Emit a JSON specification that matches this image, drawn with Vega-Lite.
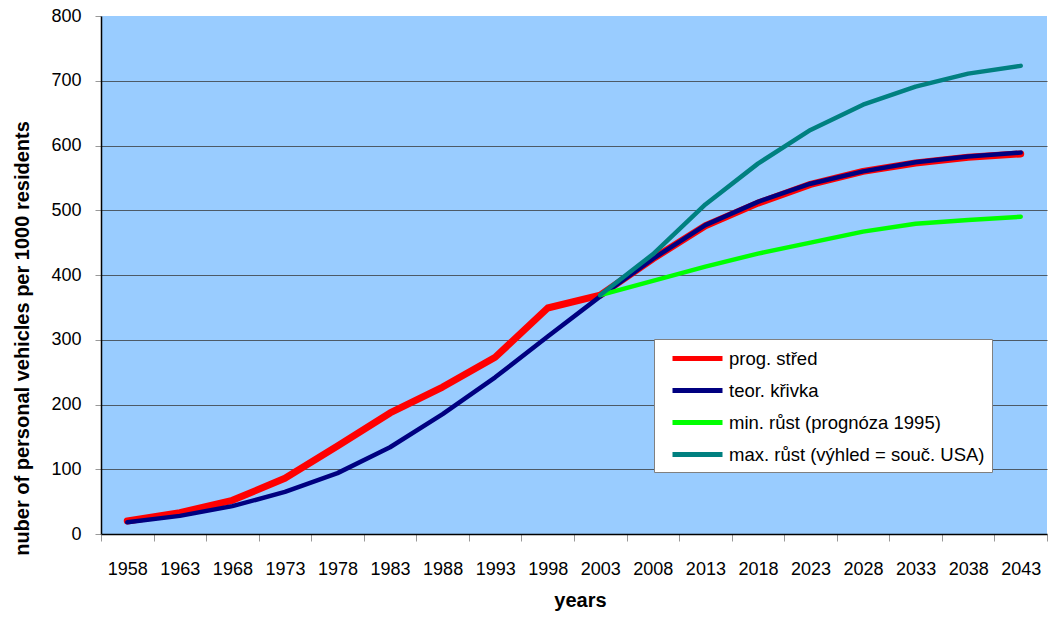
{
  "$schema": "https://vega.github.io/schema/vega-lite/v6.json",
  "width": 946,
  "height": 518,
  "autosize": {"type": "none"},
  "padding": {"left": 101, "top": 16, "right": 2, "bottom": 83},
  "background": "white",
  "config": {
    "view": {"fill": "#99CCFF", "stroke": null},
    "font": "Liberation Sans"
  },
  "data": {
    "values": [
      {"year": "1958", "series": "prog. střed", "value": 20},
      {"year": "1963", "series": "prog. střed", "value": 33},
      {"year": "1968", "series": "prog. střed", "value": 52},
      {"year": "1973", "series": "prog. střed", "value": 86},
      {"year": "1978", "series": "prog. střed", "value": 136},
      {"year": "1983", "series": "prog. střed", "value": 187},
      {"year": "1988", "series": "prog. střed", "value": 227},
      {"year": "1993", "series": "prog. střed", "value": 273},
      {"year": "1998", "series": "prog. střed", "value": 349},
      {"year": "2003", "series": "prog. střed", "value": 369},
      {"year": "2008", "series": "prog. střed", "value": 425},
      {"year": "2013", "series": "prog. střed", "value": 476},
      {"year": "2018", "series": "prog. střed", "value": 511},
      {"year": "2023", "series": "prog. střed", "value": 540},
      {"year": "2028", "series": "prog. střed", "value": 560},
      {"year": "2033", "series": "prog. střed", "value": 573},
      {"year": "2038", "series": "prog. střed", "value": 582},
      {"year": "2043", "series": "prog. střed", "value": 587},
      {"year": "1958", "series": "teor. křivka", "value": 18},
      {"year": "1963", "series": "teor. křivka", "value": 28},
      {"year": "1968", "series": "teor. křivka", "value": 43},
      {"year": "1973", "series": "teor. křivka", "value": 65},
      {"year": "1978", "series": "teor. křivka", "value": 94},
      {"year": "1983", "series": "teor. křivka", "value": 134},
      {"year": "1988", "series": "teor. křivka", "value": 185},
      {"year": "1993", "series": "teor. křivka", "value": 242},
      {"year": "1998", "series": "teor. křivka", "value": 305},
      {"year": "2003", "series": "teor. křivka", "value": 367},
      {"year": "2008", "series": "teor. křivka", "value": 425},
      {"year": "2013", "series": "teor. křivka", "value": 477},
      {"year": "2018", "series": "teor. křivka", "value": 513},
      {"year": "2023", "series": "teor. křivka", "value": 541},
      {"year": "2028", "series": "teor. křivka", "value": 560},
      {"year": "2033", "series": "teor. křivka", "value": 574},
      {"year": "2038", "series": "teor. křivka", "value": 583},
      {"year": "2043", "series": "teor. křivka", "value": 589},
      {"year": "2003", "series": "min. růst (prognóza 1995)", "value": 369},
      {"year": "2008", "series": "min. růst (prognóza 1995)", "value": 391},
      {"year": "2013", "series": "min. růst (prognóza 1995)", "value": 413},
      {"year": "2018", "series": "min. růst (prognóza 1995)", "value": 433},
      {"year": "2023", "series": "min. růst (prognóza 1995)", "value": 450},
      {"year": "2028", "series": "min. růst (prognóza 1995)", "value": 467},
      {"year": "2033", "series": "min. růst (prognóza 1995)", "value": 479},
      {"year": "2038", "series": "min. růst (prognóza 1995)", "value": 485},
      {"year": "2043", "series": "min. růst (prognóza 1995)", "value": 490},
      {"year": "2003", "series": "max. růst (výhled = souč. USA)", "value": 369},
      {"year": "2008", "series": "max. růst (výhled = souč. USA)", "value": 432},
      {"year": "2013", "series": "max. růst (výhled = souč. USA)", "value": 509},
      {"year": "2018", "series": "max. růst (výhled = souč. USA)", "value": 572},
      {"year": "2023", "series": "max. růst (výhled = souč. USA)", "value": 624},
      {"year": "2028", "series": "max. růst (výhled = souč. USA)", "value": 663},
      {"year": "2033", "series": "max. růst (výhled = souč. USA)", "value": 691},
      {"year": "2038", "series": "max. růst (výhled = souč. USA)", "value": 711},
      {"year": "2043", "series": "max. růst (výhled = souč. USA)", "value": 723}
    ]
  },
  "encoding": {
    "x": {
      "field": "year",
      "type": "ordinal",
      "bandPosition": 0.5,
      "scale": {"type": "band", "paddingInner": 0, "paddingOuter": 0},
      "axis": {
        "title": "years",
        "titleFont": "Liberation Sans",
        "titleFontSize": 20,
        "titleFontWeight": "bold",
        "titleColor": "black",
        "titleX": 479,
        "titleY": 72,
        "titleBaseline": "alphabetic",
        "titleAlign": "center",
        "labelAngle": 0,
        "labelFont": "Liberation Sans",
        "labelFontSize": 18,
        "labelColor": "black",
        "labelPadding": 19,
        "tickBand": "extent",
        "tickSize": 7,
        "tickColor": "#999999",
        "domainColor": "black",
        "domainWidth": 1.5,
        "grid": false
      }
    },
    "y": {
      "field": "value",
      "type": "quantitative",
      "scale": {"domain": [0, 800], "nice": false},
      "axis": {
        "title": "nuber of personal vehicles per 1000 residents",
        "titleFont": "Liberation Sans",
        "titleFontSize": 20,
        "titleFontWeight": "bold",
        "titleColor": "black",
        "titleX": -69,
        "titleY": 322,
        "titleAngle": 270,
        "titleBaseline": "bottom",
        "titleAlign": "center",
        "values": [0, 100, 200, 300, 400, 500, 600, 700, 800],
        "labelFont": "Liberation Sans",
        "labelFontSize": 18,
        "labelColor": "black",
        "labelPadding": 14,
        "tickSize": 6,
        "tickColor": "#999999",
        "domainColor": "black",
        "domainWidth": 1.5,
        "grid": true,
        "gridColor": {"condition": {"test": "datum.value === 800 || datum.value === 0", "value": "transparent"}, "value": "#4d5a66"},
        "gridWidth": 1
      }
    },
    "color": {
      "field": "series",
      "type": "nominal",
      "scale": {
        "domain": ["prog. střed", "teor. křivka", "min. růst (prognóza 1995)", "max. růst (výhled = souč. USA)"],
        "range": ["#FF0000", "#000080", "#00FF00", "#008080"]
      },
      "legend": {
        "title": null,
        "orient": "none",
        "legendX": 553,
        "legendY": 323,
        "fillColor": "white",
        "strokeColor": "#808080",
        "padding": 7,
        "symbolType": "M-0.1,0H4.9",
        "symbolSize": 400,
        "symbolStrokeWidth": 5,
        "symbolFillColor": "transparent",
        "labelFont": "Liberation Sans",
        "labelFontSize": 18.5,
        "labelColor": "black",
        "labelOffset": 43,
        "rowPadding": 9,
        "labelLimit": 400
      }
    }
  },
  "layer": [
    {
      "transform": [{"filter": "datum.series === 'prog. střed'"}],
      "mark": {"type": "line", "strokeWidth": 7, "strokeCap": "round", "strokeJoin": "round"}
    },
    {
      "transform": [{"filter": "datum.series === 'teor. křivka'"}],
      "mark": {"type": "line", "strokeWidth": 4.5, "strokeCap": "round", "strokeJoin": "round"}
    },
    {
      "transform": [{"filter": "datum.series === 'min. růst (prognóza 1995)'"}],
      "mark": {"type": "line", "strokeWidth": 4.5, "strokeCap": "round", "strokeJoin": "round"}
    },
    {
      "transform": [{"filter": "datum.series === 'max. růst (výhled = souč. USA)'"}],
      "mark": {"type": "line", "strokeWidth": 4.5, "strokeCap": "round", "strokeJoin": "round"}
    }
  ]
}
